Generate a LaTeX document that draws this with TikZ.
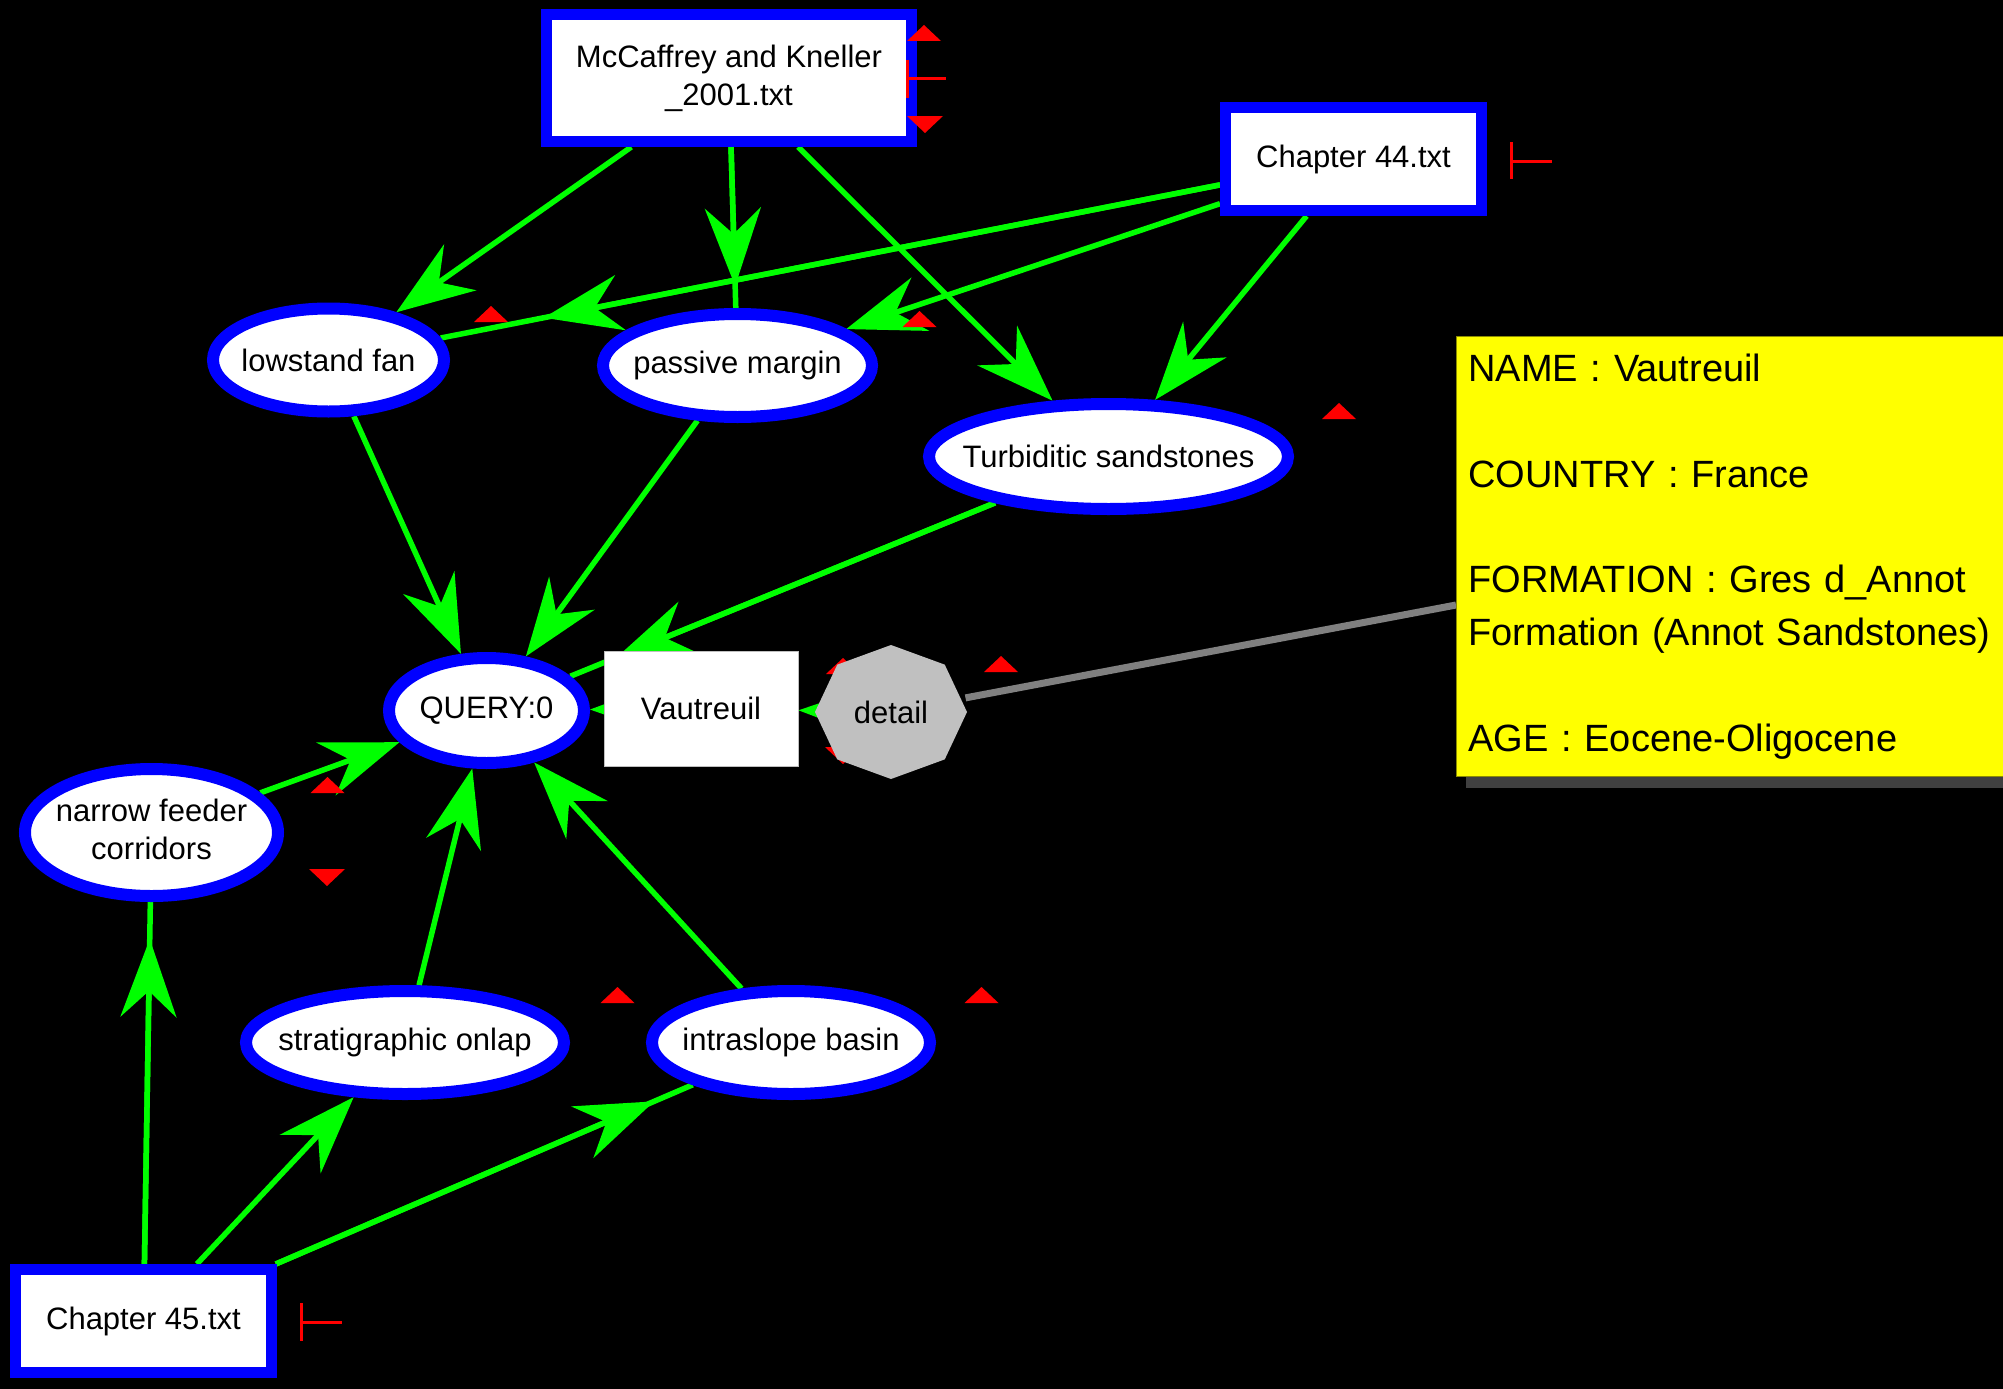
\documentclass[tikz,border=0pt]{standalone}
\usepackage{fontspec}
\setmainfont{Liberation Sans}
\usetikzlibrary{arrows.meta,shapes.geometric}
\pgfdeclarelayer{background}
\pgfsetlayers{background,main}
\definecolor{edgegreen}{RGB}{0,255,0}
\definecolor{nodeblue}{RGB}{0,0,255}
\definecolor{markred}{RGB}{255,0,0}
\definecolor{detailgray}{RGB}{192,192,192}
\definecolor{infoyellow}{RGB}{255,255,0}
\definecolor{linkgray}{RGB}{128,128,128}
\definecolor{shadowgray}{RGB}{64,64,64}
\newcommand\uptri[2]{\fill[markred] (#1-17,#2) -- (#1+17,#2) -- (#1,#2-16) -- cycle;}
\newcommand\downtri[2]{\fill[markred] (#1-18,#2) -- (#1+18,#2) -- (#1,#2+17) -- cycle;}
\begin{document}
\begin{tikzpicture}[x=1pt,y=-1pt,
  every node/.style={font=\fontsize{31}{38}\selectfont, text=black},
  concept/.style={ellipse, draw=nodeblue, fill=white, line width=12pt, inner sep=0pt},
  source/.style={rectangle, draw=nodeblue, fill=white, line width=11pt, inner sep=0pt, align=center},
  edge/.style={draw=edgegreen, line width=5.5pt},
  arr/.style={edge, -{Stealth[length=78pt,width=56pt,inset=26pt]}},
  tick/.style={draw=markred, line width=3pt},
  link/.style={draw=linkgray, line width=7pt}
]
\useasboundingbox (0,0) rectangle (2003,1389);

% source documents
\node[source, minimum width=365pt, minimum height=127pt] (mcc) at (729,78) {McCaffrey and Kneller\\\_2001.txt};
\node[source, minimum width=256pt, minimum height=103pt] (c44) at (1353.5,159) {Chapter 44.txt};
\node[source, minimum width=256pt, minimum height=103pt] (c45) at (143.5,1321) {Chapter 45.txt};

% concepts
\node[concept, minimum width=231pt, minimum height=103pt] (low) at (328.5,360) {\makebox[0pt]{lowstand fan}};
\node[concept, minimum width=269pt, minimum height=103pt] (pass) at (737.5,365.5) {\makebox[0pt]{passive margin}};
\node[concept, minimum width=359pt, minimum height=105pt] (turb) at (1108.5,456.5) {\makebox[0pt]{Turbiditic sandstones}};
\node[concept, minimum width=195pt, minimum height=105pt] (query) at (486.5,710.5) {\makebox[0pt]{QUERY:0}};
\node[concept, minimum width=253pt, minimum height=127pt] (feeder) at (151.5,832.5) {\makebox[0pt]{\begin{tabular}{@{}c@{}}narrow feeder\\corridors\end{tabular}}};
\node[concept, minimum width=318pt, minimum height=103pt] (onlap) at (405,1042.5) {\makebox[0pt]{stratigraphic onlap}};
\node[concept, minimum width=278pt, minimum height=103pt] (intra) at (791,1042.5) {\makebox[0pt]{intraslope basin}};

% result
\node[rectangle, fill=white, draw=gray!50, line width=1pt, minimum width=194pt, minimum height=115pt, inner sep=0pt] (vaut) at (701,708.5) {Vautreuil};
\node[ellipse, minimum width=152pt, minimum height=134pt, inner sep=0pt] (detail) at (891,712) {detail};

% info box
\node[anchor=north west, fill=infoyellow, draw=black!45!infoyellow, line width=1pt,
      minimum height=440pt, text width=570pt, inner xsep=12pt, inner ysep=0pt, align=left,
      font=\fontsize{38}{52.86}\selectfont] (info) at (1456,336)
  {NAME : Vautreuil\\[52.86pt]COUNTRY : France\\[52.86pt]FORMATION : Gres d\_Annot\\Formation (Annot Sandstones)\\[52.86pt]AGE : Eocene-Oligocene};
\coordinate (infoport) at (1456,605);

\begin{pgfonlayer}{background}
  \fill[black] (0,0) rectangle (2003,1389);
  \fill[shadowgray] ([xshift=10pt]info.south west) rectangle ([xshift=10pt,yshift=-11pt]info.south east);
  % edges
  \draw[arr] (mcc) -- (low);
  \draw[edge] (mcc) -- (pass);
  \draw[arr, shorten >=22pt] (mcc) -- (pass);
  \draw[arr] (mcc) -- (turb);
  \draw[edge] (c44) -- (low);
  \draw[arr, shorten >=105pt] (c44) -- (low);
  \draw[arr] (c44) -- (pass);
  \draw[arr] (c44) -- (turb);
  \draw[arr] (low) -- (query);
  \draw[arr] (pass) -- (query);
  \draw[edge] (turb) -- (query);
  \draw[arr, shorten >=50pt] (turb) -- (query);
  \draw[arr] (feeder) -- (query);
  \draw[arr] (onlap) -- (query);
  \draw[arr] (intra) -- (query);
  \draw[edge] (c45) -- (feeder);
  \draw[arr, shorten >=37pt] (c45) -- (feeder);
  \draw[arr] (c45) -- (onlap);
  \draw[edge] (c45) -- (intra);
  \draw[arr, shorten >=42pt] (c45) -- (intra);
  \draw[arr] (vaut) -- (query);
  \draw[arr] (detail) -- (vaut);
  \draw[link] (detail) -- (infoport);
  % markers partly hidden by the detail shape
  \uptri{843}{674}
  \downtri{843}{747}
  \begin{scope}[shift={(detail.center)}]
    \fill[detailgray] (0:76pt and 67pt) -- (45:76pt and 67pt) -- (90:76pt and 67pt) -- (135:76pt and 67pt)
      -- (180:76pt and 67pt) -- (225:76pt and 67pt) -- (270:76pt and 67pt) -- (315:76pt and 67pt) -- cycle;
  \end{scope}
\end{pgfonlayer}

% red markers
\uptri{924}{41}
\downtri{925}{116}
\draw[tick] (907,60) -- (907,98) (907,79) -- (946,79);
\draw[tick] (1511,142) -- (1511,179) (1511,161) -- (1552,161);
\draw[tick] (301,1303) -- (301,1341) (301,1322) -- (342,1322);
\uptri{491}{322}
\uptri{919.5}{327}
\uptri{1339}{419}
\uptri{1001}{672}
\uptri{327.5}{793}
\downtri{327}{869}
\uptri{617.5}{1003}
\uptri{981.5}{1003}
\end{tikzpicture}
\end{document}
